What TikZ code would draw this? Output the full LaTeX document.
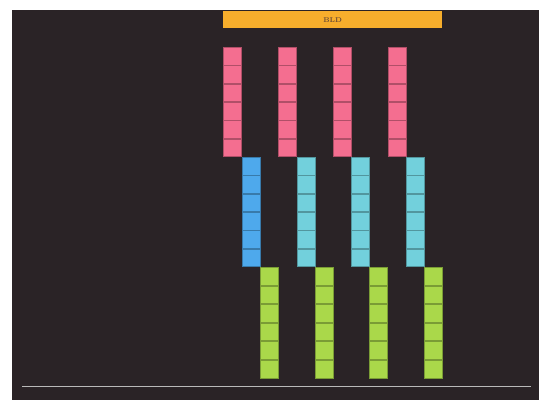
\documentclass[tikz,border=0pt]{standalone}
\definecolor{bgdark}{HTML}{2A2326}
\definecolor{hdrorange}{HTML}{F7AE2C}
\definecolor{pinkc}{HTML}{F46E90}
\definecolor{bluec}{HTML}{4EA9EC}
\definecolor{cyanc}{HTML}{72D0DC}
\definecolor{greenc}{HTML}{AAD84A}
\definecolor{hdrtext}{HTML}{6E4E34}
\begin{document}
\begin{tikzpicture}[x=1pt,y=-1pt,
  cell/.style={draw=#1!72!black, fill=#1, line width=0.7pt, minimum width=17.5pt,
    minimum height=17.6pt, inner sep=0pt, outer sep=0pt, anchor=north west},
  hdrbox/.style={fill=hdrorange, minimum width=219pt, minimum height=17pt,
    inner sep=0pt, anchor=north west, text=hdrtext,
    font=\fontsize{7}{8}\selectfont\bfseries}]
\useasboundingbox (0,0) rectangle (539,407);
\fill[white] (0,0) rectangle (539,407);
\fill[bgdark] (12,10) rectangle (539,400);
\coordinate (gl) at (22,386);
\coordinate (gr) at (531,386);
\draw[gray!55, line width=0.8pt] (gl) -- (gr);
\node[hdrbox] (hdr) at (223,11) {BLD};
% pink columns
\foreach \c/\x in {1/223,2/278,3/333,4/388}{
  \foreach \r in {0,...,5}{
    \node[cell=pinkc] (p\c\r) at (\x+0.4,47.4+\r*18.33) {};
  }
}
% blue / cyan columns
\foreach \c/\x/\col in {1/242/bluec,2/297/cyanc,3/351/cyanc,4/406/cyanc}{
  \foreach \r in {0,...,5}{
    \node[cell=\col] (b\c\r) at (\x+0.4,157.4+\r*18.33) {};
  }
}
% green columns
\foreach \c/\x in {1/260,2/315,3/369,4/424}{
  \foreach \r in {0,...,5}{
    \node[cell=greenc] (g\c\r) at (\x+0.4,267.4+\r*18.6) {};
  }
}
\end{tikzpicture}
\end{document}
